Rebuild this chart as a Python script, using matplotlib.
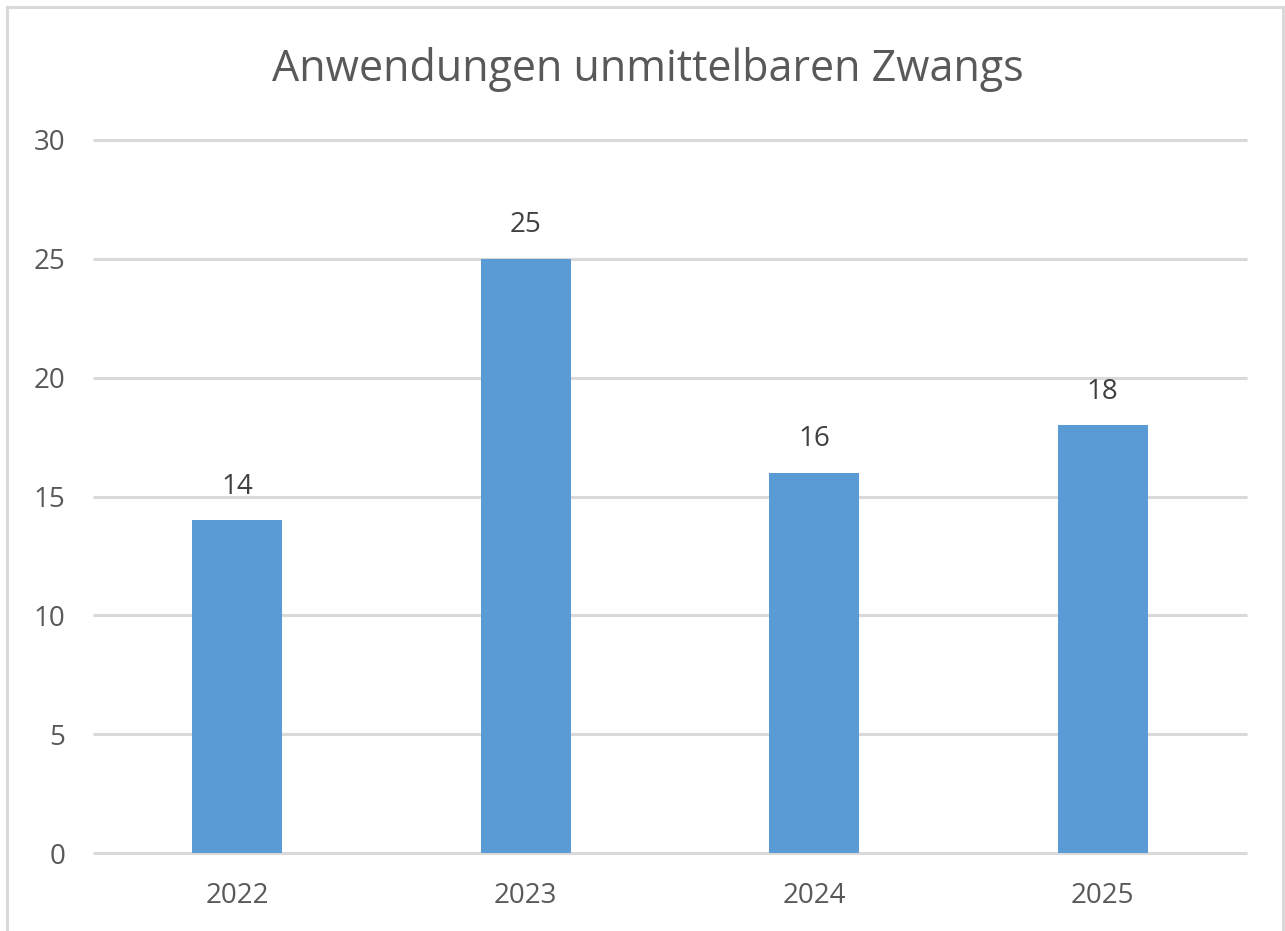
import matplotlib
matplotlib.use("Agg")
import matplotlib.pyplot as plt
from matplotlib.patches import Rectangle

years = ["2022", "2023", "2024", "2025"]
values = [14, 25, 16, 18]
title = "Anwendungen unmittelbaren Zwangs"
yticks = [0, 5, 10, 15, 20, 25, 30]

plt.rcParams['font.family'] = ['Open Sans', 'DejaVu Sans']

fig = plt.figure(figsize=(12.85, 9.31), dpi=100)
ax = fig.add_axes([93/1285, 1-853/931, (1247-93)/1285, (853-140)/931])

x = list(range(len(years)))
ax.bar(x, values, width=0.312, color="#5B9BD5", zorder=3)
for xi, v in zip(x, values):
    ax.annotate(str(v), (xi, v), xytext=(0, 24), textcoords="offset points",
                ha="center", va="center", fontsize=20, color="#404040")

ax.set_xlim(-0.5, len(years) - 0.5)
ax.set_ylim(0, 30)
ax.set_yticks(yticks)
ax.set_xticks(x)
ax.set_xticklabels(years)
ax.tick_params(axis="y", length=0, pad=20, labelsize=20, labelcolor="#595959")
ax.tick_params(axis="x", length=0, pad=21, labelsize=20, labelcolor="#595959")
ax.grid(axis="y", color="#d9d9d9", linewidth=2.2, zorder=0)
for gl in ax.get_ygridlines():
    gl.set_clip_on(False)
    gl.set_solid_capstyle("butt")
for s in ax.spines.values():
    s.set_visible(False)

fig.text(648/1285, 1-70/931, title, ha="center", va="center", fontsize=31, color="#595959")

fig.patches.append(Rectangle((7/1285, -0.05), (1283-7)/1285, 1-7/931+0.05,
                             transform=fig.transFigure, fill=False,
                             edgecolor="#d9d9d9", linewidth=2.2))

fig.savefig("out.png", dpi=100, facecolor="white")
